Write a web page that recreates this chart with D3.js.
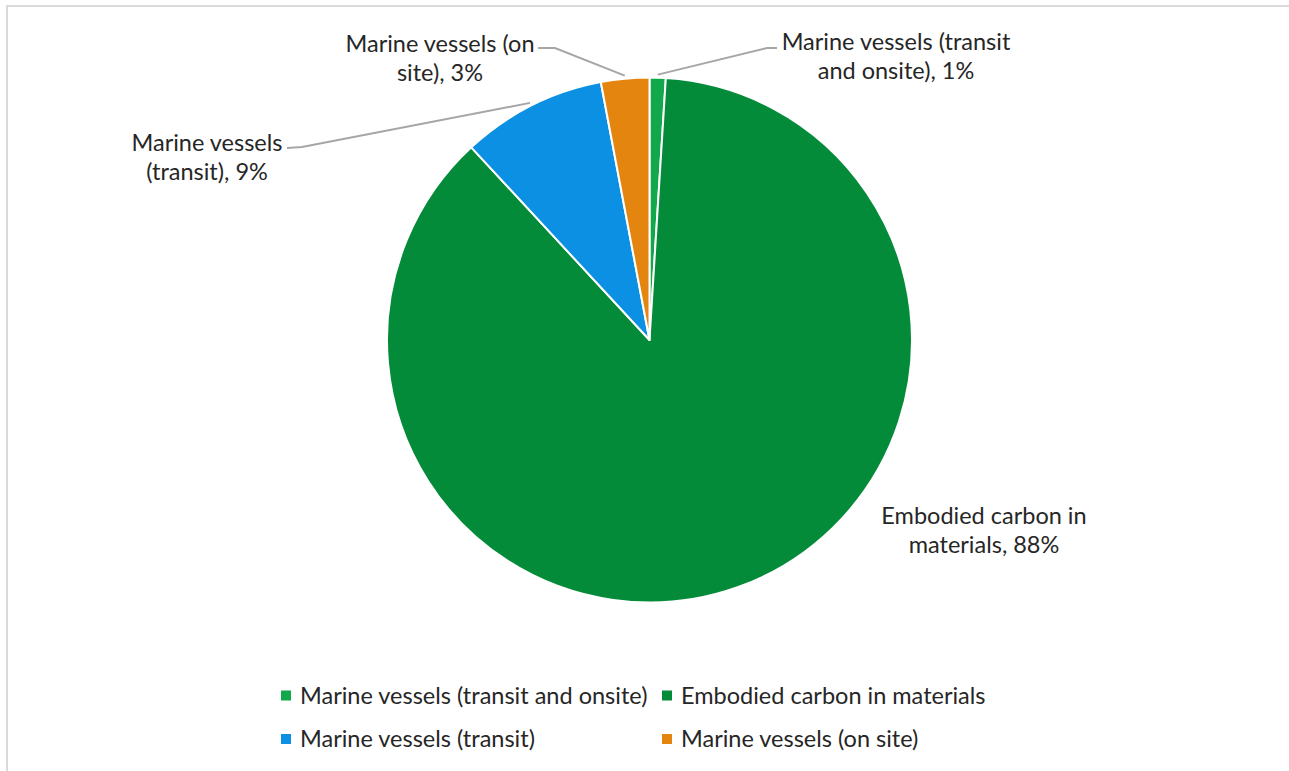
<!DOCTYPE html>
<html>
<head>
<meta charset="utf-8">
<script src="https://cdn.jsdelivr.net/npm/d3@7"></script>
<style>
  html, body { margin: 0; padding: 0; background: #fff; }
  svg { display: block; }
  text { font-family: Lato, "Noto Sans", sans-serif; fill: #262626; }
</style>
</head>
<body>
<svg id="chart" width="1289" height="771"></svg>
<script>
// Shares of embodied carbon by source (percent)
const categories = [
  "Marine vessels (transit and onsite)",
  "Embodied carbon in materials",
  "Marine vessels (transit)",
  "Marine vessels (on site)"
];
const values = [1, 88, 9, 3];
const colors = ["#10A84A", "#038B39", "#0C90E4", "#E3850E"];

// Label text lines (category wrapped, then value appended)
const labelLines = [
  ["Marine vessels (transit", "and onsite), {v}%"],
  ["Embodied carbon in", "materials, {v}%"],
  ["Marine vessels", "(transit), {v}%"],
  ["Marine vessels (on", "site), {v}%"]
];

// Label placement: block center x, first baseline y, leader elbow (or null)
const labelLayout = [
  { x: 896, y: 50, elbow: [767, 48], tail: [777, 48] },
  { x: 984, y: 524, elbow: null },
  { x: 207, y: 151, elbow: [302, 147], tail: [287, 148] },
  { x: 440, y: 52, elbow: [555, 48], tail: [538, 48] }
];

const svg = d3.select("#chart");
const W = 1289, H = 771;
const FS = 23.5;

// chart frame
svg.append("rect")
  .attr("x", 7).attr("y", 6)
  .attr("width", W).attr("height", H)
  .attr("fill", "#fff")
  .attr("stroke", "#d9d9d9")
  .attr("stroke-width", 2);

const cx = 649.5, cy = 340, R = 262.5;

const pie = d3.pie().sort(null).value(d => d)(values);
const arc = d3.arc().innerRadius(0).outerRadius(R);

const g = svg.append("g").attr("transform", `translate(${cx},${cy})`);

g.selectAll("path.slice")
  .data(pie)
  .join("path")
  .attr("class", "slice")
  .attr("d", arc)
  .attr("fill", (d, i) => colors[i])
  .attr("stroke", "#fff")
  .attr("stroke-width", 2)
  .attr("stroke-linejoin", "round");

// leader lines from slice edge to label
pie.forEach((d, i) => {
  const L = labelLayout[i];
  if (!L.elbow) return;
  const a = (d.startAngle + d.endAngle) / 2;
  const px = cx + (R + 3) * Math.sin(a);
  const py = cy - (R + 3) * Math.cos(a);
  svg.append("polyline")
    .attr("points", [[px, py], L.elbow, L.tail].map(p => p.join(",")).join(" "))
    .attr("fill", "none")
    .attr("stroke", "#a6a6a6")
    .attr("stroke-width", 2);
});

// data labels
const fmt = d3.format("d");
labelLayout.forEach((L, i) => {
  const t = svg.append("text")
    .attr("text-anchor", "middle")
    .attr("font-size", FS);
  labelLines[i].forEach((line, k) => {
    t.append("tspan")
      .attr("x", L.x)
      .attr("y", L.y + k * 29)
      .text(line.replace("{v}", fmt(values[i])));
  });
});

// legend (two rows, two columns)
const legendPos = [
  { x: 281, y: 695.5 },
  { x: 662, y: 695.5 },
  { x: 281, y: 739 },
  { x: 662, y: 739 }
];
const lg = svg.append("g");
categories.forEach((c, i) => {
  const p = legendPos[i];
  lg.append("rect")
    .attr("x", p.x).attr("y", p.y - 5)
    .attr("width", 10).attr("height", 10)
    .attr("fill", colors[i]);
  lg.append("text")
    .attr("x", p.x + 19).attr("y", p.y)
    .attr("dy", "0.35em")
    .attr("font-size", FS)
    .text(c);
});
</script>
</body>
</html>
